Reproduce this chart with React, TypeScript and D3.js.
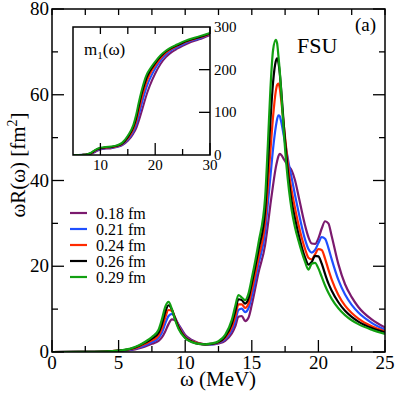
import React from 'react';
import * as d3 from 'd3';

// ---------- main panel data ----------
const omega = [0, 2, 4, 5, 6, 6.5, 7, 7.5, 8, 8.25, 8.5, 8.75, 9, 9.25, 9.5, 10, 10.5, 11, 11.5, 12, 12.5, 13, 13.5, 13.75, 14, 14.25, 14.5, 14.75, 15, 15.5, 16, 16.2, 16.4, 16.6, 16.8, 16.9, 17, 17.1, 17.2, 17.4, 17.6, 17.8, 18, 18.25, 18.5, 19, 19.25, 19.5, 19.75, 20, 20.25, 20.5, 20.75, 21, 21.5, 22, 22.5, 23, 24, 25];

const r018 = [0, 0.02, 0.1, 0.2, 0.5, 0.85, 1.3, 1.9, 2.6, 3.4, 4.8, 6.5, 7.6, 7.4, 6.4, 4.0, 2.8, 2.1, 1.8, 1.8, 2.0, 2.6, 4.3, 5.9, 8.2, 8.4, 7.2, 8.0, 11, 18.5, 25, 29.5, 34.5, 39, 43, 44.5, 45.7, 46.2, 46, 45, 44, 43.2, 42.3, 40, 36.5, 29.5, 26.8, 25.3, 25.2, 26.5, 28.8, 30.5, 30, 27, 20.5, 15.8, 12.8, 10.5, 7.6, 5.7];
const r021 = [0, 0.02, 0.1, 0.25, 0.6, 1.0, 1.6, 2.3, 3.3, 4.5, 6.6, 8.4, 8.9, 8, 6.3, 3.7, 2.6, 2.0, 1.8, 1.8, 2.1, 3.0, 5.1, 7.1, 9.8, 10.1, 9.3, 10.2, 13, 20.5, 28, 34.5, 41, 47.5, 52.5, 54.3, 55.2, 55, 53.8, 50.5, 47, 43.5, 40.5, 36.5, 32.8, 26.2, 24, 23.2, 23.8, 25.4, 26.8, 26.4, 24.3, 21.6, 16.8, 13.4, 11, 9.2, 6.8, 5.2];
const r024 = [0, 0.02, 0.1, 0.3, 0.7, 1.2, 1.9, 2.7, 3.9, 5.5, 8, 9.8, 9.6, 7.9, 6, 3.5, 2.5, 2.0, 1.8, 1.9, 2.2, 3.3, 5.8, 8.2, 11.1, 11.1, 10.3, 11.3, 14.5, 22, 30.5, 38.5, 47, 55, 60.8, 62.3, 62.6, 61.5, 59, 53, 47, 41.5, 37.5, 33.5, 29.8, 24, 22, 21.6, 22.8, 24, 23.8, 21.8, 19.2, 16.9, 13.3, 10.8, 9.1, 7.8, 6.0, 4.8];
const r026 = [0, 0.02, 0.1, 0.3, 0.8, 1.4, 2.2, 3.1, 4.5, 6.5, 9.3, 10.9, 9.9, 7.7, 5.7, 3.3, 2.4, 1.9, 1.8, 1.9, 2.3, 3.6, 6.6, 9.4, 12.3, 12.1, 11.3, 12.5, 16, 23.8, 33, 43, 54, 63, 67.8, 68.5, 67.5, 65, 61.5, 53, 45.5, 39.5, 35, 31, 27.5, 22, 20.4, 21, 22.4, 22.3, 20.6, 18.2, 16, 14.3, 11.6, 9.6, 8.2, 7.1, 5.6, 4.6];
const r029 = [0, 0.02, 0.1, 0.3, 0.9, 1.5, 2.4, 3.5, 5.2, 7.6, 10.5, 11.7, 10, 7.4, 5.4, 3.2, 2.3, 1.9, 1.8, 2.0, 2.5, 4.0, 7.5, 10.6, 13.3, 12.7, 12.1, 13.6, 17.2, 25.4, 36, 48, 61.5, 70.5, 72.8, 72, 69, 65.5, 61, 51.5, 43.5, 37.5, 33, 29, 26, 21, 19.2, 20.6, 20.8, 19.5, 17.5, 15.5, 13.8, 12.4, 10.2, 8.6, 7.4, 6.5, 5.2, 4.2];

const seriesLabels = ['0.18 fm', '0.21 fm', '0.24 fm', '0.26 fm', '0.29 fm'];
const seriesColors = ['#7b1a6e', '#1f4fff', '#ff2a00', '#000000', '#12a012'];

const xTicks = [0, 5, 10, 15, 20, 25];
const yTicks = [0, 20, 40, 60, 80];

// ---------- inset data: m1(omega) ----------
const insetOmega = [5, 6, 7, 7.5, 8, 8.5, 9, 9.5, 10, 11, 12, 13, 14, 15, 16, 16.5, 17, 17.5, 18, 18.5, 19, 20, 21, 22, 23, 24, 25, 26, 28, 30];
const m018 = [0, 0, 0.3, 0.9, 2, 3.8, 7, 10.5, 13, 15, 16, 18.5, 23, 33, 50, 62, 80, 101, 123, 144, 162, 191, 214, 230, 241, 249, 256, 262, 271, 281];
const m021 = [0, 0, 0.3, 1, 2.3, 4.5, 8.5, 12, 14, 16, 17, 19.5, 24.5, 36, 55, 70, 93, 118, 141, 162, 178, 203, 222, 236, 246, 253, 259, 265, 273, 283];
const m024 = [0, 0, 0.4, 1.2, 2.7, 5.2, 9.5, 13, 15, 17, 18, 20.5, 26, 39, 60, 78, 104, 131, 154, 174, 189, 210, 227, 240, 249, 256, 262, 267, 275, 284];
const m026 = [0, 0, 0.4, 1.3, 3, 6, 10.5, 14, 16, 18, 19, 21.5, 27, 42, 65, 85, 114, 142, 164, 183, 196, 215, 231, 243, 251, 257, 263, 268, 276, 285];
const m029 = [0, 0, 0.5, 1.5, 3.5, 7, 11.5, 15, 17, 19, 20, 22.5, 29, 45, 70, 93, 123, 150, 173, 190, 201, 219, 234, 245, 253, 259, 265, 270, 278, 286];

const insetXTicks = [10, 20, 30];
const insetXMinor = [15, 25];
const insetYTicks = [0, 100, 200, 300];

const FONT = 'Liberation Serif, Times New Roman, DejaVu Serif, serif';

export default function App() {
  const x = d3.scaleLinear().domain([0, 25]).range([52, 385]);
  const y = d3.scaleLinear().domain([0, 80]).range([352, 9]);
  const mainSeries = [r018, r021, r024, r026, r029];

  const line = d3
    .line<[number, number]>()
    .x((d) => x(d[0]))
    .y((d) => y(d[1]))
    .curve(d3.curveMonotoneX);

  const ix = d3.scaleLinear().domain([5, 30]).range([73, 210]);
  const iy = d3.scaleLinear().domain([0, 300]).range([155, 27]);
  const insetSeries = [m018, m021, m024, m026, m029];
  const iline = d3
    .line<[number, number]>()
    .x((d) => ix(d[0]))
    .y((d) => iy(d[1]))
    .curve(d3.curveMonotoneX);

  const [x0, x1] = x.range();
  const [y0, y1] = y.range();

  const minorX = d3.range(0, 25.01, 2.5);
  const minorY = d3.range(0, 80.01, 10);
  const ts: React.CSSProperties = { fontFamily: FONT };

  return (
    <svg width={399} height={395} style={{ position: 'absolute', left: 0, top: 0, background: '#fff', fontFamily: FONT }}>
      <rect x={0} y={0} width={399} height={395} fill="#fff" />
      <defs>
        <clipPath id="clipMain">
          <rect x={x0} y={y1} width={x1 - x0} height={y0 - y1} />
        </clipPath>
        <clipPath id="clipInset">
          <rect x={ix(5)} y={iy(300)} width={ix(30) - ix(5)} height={iy(0) - iy(300)} />
        </clipPath>
      </defs>
      {/* curves */}
      <g clipPath="url(#clipMain)">
        {mainSeries.map((s, i) => (
          <path key={i} d={line(omega.map((w, j) => [w, s[j]]) as [number, number][]) || ''} fill="none" stroke={seriesColors[i]} strokeWidth={2.2} strokeLinejoin="round" />
        ))}
      </g>

      {/* main frame */}
      <rect x={x0} y={y1} width={x1 - x0} height={y0 - y1} fill="none" stroke="#000" strokeWidth={1.5} />
      {minorX.map((t) => {
        const major = t % 5 === 0;
        return <line key={'bx' + t} x1={x(t)} x2={x(t)} y1={y0} y2={y0 - (major ? 12 : 6)} stroke="#000" strokeWidth={1.3} />;
      })}
      {minorX.map((t) => (
        <line key={'tx' + t} x1={x(t)} x2={x(t)} y1={y1} y2={y1 + 6} stroke="#000" strokeWidth={1.3} />
      ))}
      {minorY.map((t) => {
        const major = t % 20 === 0;
        return (
          <g key={'yt' + t}>
            <line x1={x0} x2={x0 + (major ? 12 : 6)} y1={y(t)} y2={y(t)} stroke="#000" strokeWidth={1.3} />
            <line x1={x1} x2={x1 - (major ? 12 : 6)} y1={y(t)} y2={y(t)} stroke="#000" strokeWidth={1.3} />
          </g>
        );
      })}
      {xTicks.map((t) => (
        <text key={'xl' + t} style={ts} x={x(t)} y={369} textAnchor="middle" fontSize={19}>{t}</text>
      ))}
      {yTicks.map((t) => (
        <text key={'yl' + t} style={ts} x={49} y={y(t) + 6} textAnchor="end" fontSize={19}>{t}</text>
      ))}
      <text style={ts} x={218} y={386} textAnchor="middle" fontSize={21}>ω (MeV)</text>
      <text style={ts} transform="translate(25,165) rotate(-90)" textAnchor="middle" fontSize={21}>
        ωR(ω) [fm<tspan dy={-8} fontSize={14}>2</tspan><tspan dy={8}>]</tspan>
      </text>
      <text style={ts} x={297} y={53} fontSize={22}>FSU</text>
      <text style={ts} x={355} y={31} fontSize={19}>(a)</text>

      {/* legend */}
      {seriesLabels.map((lab, i) => (
        <g key={lab}>
          <line x1={70} x2={87} y1={213 + i * 16} y2={213 + i * 16} stroke={seriesColors[i]} strokeWidth={2.2} />
          <text style={ts} x={96} y={213 + i * 16 + 5.5} fontSize={16}>{lab}</text>
        </g>
      ))}

      {/* inset */}
      <rect x={ix(5)} y={iy(300)} width={ix(30) - ix(5)} height={iy(0) - iy(300)} fill="#fff" />
      <g clipPath="url(#clipInset)">
        {insetSeries.map((s, i) => (
          <path key={'m' + i} d={iline(insetOmega.map((w, j) => [w, s[j]]) as [number, number][]) || ''} fill="none" stroke={seriesColors[i]} strokeWidth={2} strokeLinejoin="round" />
        ))}
      </g>
      <rect x={ix(5)} y={iy(300)} width={ix(30) - ix(5)} height={iy(0) - iy(300)} fill="none" stroke="#000" strokeWidth={1.5} />
      {insetXTicks.map((t) => (
        <g key={'ixt' + t}>
          <line x1={ix(t)} x2={ix(t)} y1={iy(0)} y2={iy(0) - 12} stroke="#000" strokeWidth={1.3} />
          <line x1={ix(t)} x2={ix(t)} y1={iy(300)} y2={iy(300) + 7} stroke="#000" strokeWidth={1.3} />
          <text style={ts} x={ix(t)} y={170} textAnchor="middle" fontSize={15}>{t}</text>
        </g>
      ))}
      {insetXMinor.map((t) => (
        <g key={'ixm' + t}>
          <line x1={ix(t)} x2={ix(t)} y1={iy(0)} y2={iy(0) - 6} stroke="#000" strokeWidth={1.3} />
          <line x1={ix(t)} x2={ix(t)} y1={iy(300)} y2={iy(300) + 7} stroke="#000" strokeWidth={1.3} />
        </g>
      ))}
      {insetYTicks.map((t) => (
        <g key={'iyt' + t}>
          {t > 0 && t < 300 && <line x1={ix(30)} x2={ix(30) - 11} y1={iy(t)} y2={iy(t)} stroke="#000" strokeWidth={1.3} />}
          <text style={ts} x={214} y={iy(t) + 5} fontSize={15}>{t}</text>
        </g>
      ))}
      <text style={ts} x={84} y={55} fontSize={17}>
        m<tspan dy={4} fontSize={11}>1</tspan><tspan dy={-4}>(ω)</tspan>
      </text>
    </svg>
  );
}
